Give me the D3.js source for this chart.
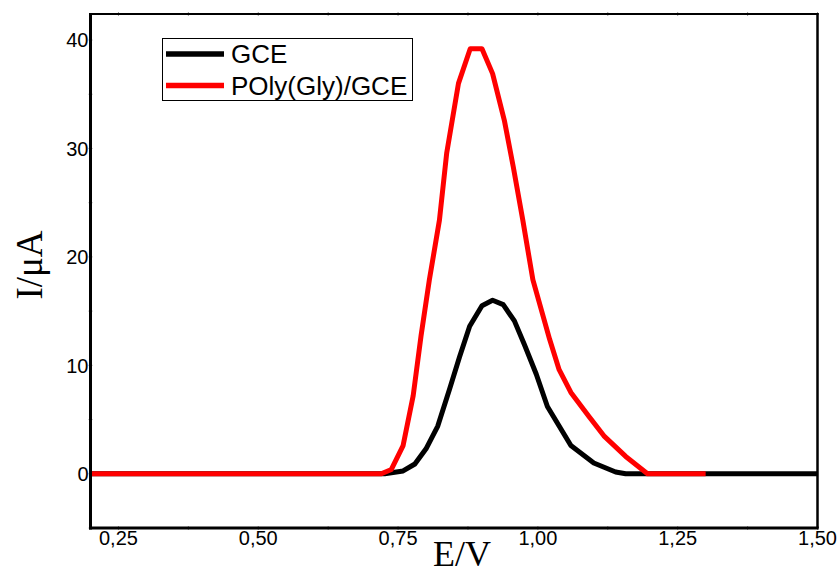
<!DOCTYPE html>
<html>
<head>
<meta charset="utf-8">
<script src="https://cdn.jsdelivr.net/npm/d3@7/dist/d3.min.js"></script>
<style>
  html, body { margin: 0; padding: 0; background: #fff; }
  svg { display: block; }
</style>
</head>
<body>
<svg id="chart" width="839" height="574"></svg>
<script>
// ---- data ----
const xTicks = [0.25, 0.50, 0.75, 1.00, 1.25, 1.50];
const xMinorTicks = [0.375, 0.625, 0.875, 1.125, 1.375];
const yTicks = [0, 10, 20, 30, 40];
const yMinorTicks = [-5, 5, 15, 25, 35];

const seriesNames = ["GCE", "POly(Gly)/GCE"];
const seriesColors = ["#000000", "#ff0000"];

const gceE = [0.20, 0.726, 0.759, 0.780, 0.800, 0.821, 0.842, 0.860, 0.878, 0.900, 0.919, 0.938, 0.958, 0.976, 0.997, 1.017, 1.038, 1.059, 1.100, 1.139, 1.157, 1.50];
const gceI = [0.0, 0.0, 0.26, 0.9, 2.3, 4.4, 7.8, 10.8, 13.6, 15.5, 16.0, 15.6, 14.1, 11.9, 9.2, 6.2, 4.4, 2.6, 1.0, 0.17, 0.0, 0.0];

const polyE = [0.20, 0.720, 0.738, 0.759, 0.777, 0.791, 0.806, 0.824, 0.837, 0.858, 0.879, 0.900, 0.919, 0.940, 0.956, 0.973, 0.991, 1.021, 1.038, 1.059, 1.091, 1.118, 1.157, 1.196, 1.30];
const polyI = [0.0, 0.0, 0.4, 2.6, 7.2, 12.7, 17.9, 23.4, 29.6, 36.0, 39.2, 39.2, 36.9, 32.6, 28.3, 23.4, 17.9, 12.4, 9.6, 7.5, 5.3, 3.5, 1.6, 0.0, 0.0];

// ---- layout ----
const svg = d3.select("#chart");
const L = 90.5, R = 817.5, T = 14, B = 528;

const x = d3.scaleLinear().domain([0.2, 1.5]).range([L, R]);
const y = d3.scaleLinear().domain([-5, 42.4]).range([B, T]);

// tiny ticks (barely visible in reference)
const tickG = svg.append("g").attr("stroke", "#999").attr("stroke-width", 1);
xTicks.concat(xMinorTicks).forEach(v => {
  tickG.append("line").attr("x1", x(v)).attr("x2", x(v)).attr("y1", T - 2).attr("y2", T + 2);
  tickG.append("line").attr("x1", x(v)).attr("x2", x(v)).attr("y1", B - 2).attr("y2", B + 2);
});
yTicks.concat(yMinorTicks).forEach(v => {
  tickG.append("line").attr("x1", L - 2).attr("x2", L + 2).attr("y1", y(v)).attr("y2", y(v));
});

// lines
const line = d3.line().x(d => x(d[0])).y(d => y(d[1]));
const gceData = gceE.map((e, i) => [e, gceI[i]]);
const polyData = polyE.map((e, i) => [e, polyI[i]]);

svg.append("path").datum(gceData).attr("d", line)
  .attr("fill", "none").attr("stroke", seriesColors[0]).attr("stroke-width", 5)
  .attr("stroke-linejoin", "round");
svg.append("path").datum(polyData).attr("d", line)
  .attr("fill", "none").attr("stroke", seriesColors[1]).attr("stroke-width", 5)
  .attr("stroke-linejoin", "round");

// frame
svg.append("line").attr("x1", L - 1).attr("x2", R + 1).attr("y1", T).attr("y2", T)
  .attr("stroke", "#000").attr("stroke-width", 2);
svg.append("line").attr("x1", R).attr("x2", R).attr("y1", T - 1).attr("y2", B)
  .attr("stroke", "#000").attr("stroke-width", 2.5);
svg.append("line").attr("x1", L).attr("x2", L).attr("y1", T - 1).attr("y2", B + 1.5)
  .attr("stroke", "#000").attr("stroke-width", 3);
svg.append("line").attr("x1", L - 1.5).attr("x2", R + 1.25).attr("y1", B).attr("y2", B)
  .attr("stroke", "#000").attr("stroke-width", 3);

// tick labels
const fmt = d3.format(".2f");
svg.append("g").selectAll("text").data(xTicks).join("text")
  .attr("x", d => x(d)).attr("y", 545)
  .attr("text-anchor", "middle")
  .attr("font-family", "Liberation Sans, Arial, sans-serif")
  .attr("font-size", 20)
  .attr("fill", "#000")
  .text(d => fmt(d).replace(".", ","));

svg.append("g").selectAll("text").data(yTicks).join("text")
  .attr("x", L - 2).attr("y", d => y(d))
  .attr("dy", "0.36em")
  .attr("text-anchor", "end")
  .attr("font-family", "Liberation Sans, Arial, sans-serif")
  .attr("font-size", 20)
  .attr("fill", "#000")
  .text(d => d);

// axis titles
svg.append("text")
  .attr("x", 462).attr("y", 566)
  .attr("text-anchor", "middle")
  .attr("font-family", "Liberation Serif, Times New Roman, serif")
  .attr("font-size", 36)
  .attr("fill", "#000")
  .text("E/V");

svg.append("text")
  .attr("transform", "translate(42,265) rotate(-90)")
  .attr("text-anchor", "middle")
  .attr("font-family", "Liberation Serif, Times New Roman, serif")
  .attr("font-size", 37)
  .attr("fill", "#000")
  .text("I/μA");

// legend
const lg = svg.append("g");
lg.append("rect").attr("x", 162.5).attr("y", 38.5).attr("width", 250).attr("height", 62)
  .attr("fill", "#fff").attr("stroke", "#000").attr("stroke-width", 1);
seriesNames.forEach((name, i) => {
  const yy = 54 + i * 31.5;
  lg.append("line").attr("x1", 166).attr("x2", 224).attr("y1", yy).attr("y2", yy)
    .attr("stroke", seriesColors[i]).attr("stroke-width", 5.5);
  lg.append("text").attr("x", 231).attr("y", yy).attr("dy", "0.36em")
    .attr("font-family", "Liberation Sans, Arial, sans-serif")
    .attr("font-size", 26)
    .attr("fill", "#000")
    .text(name);
});
</script>
</body>
</html>
